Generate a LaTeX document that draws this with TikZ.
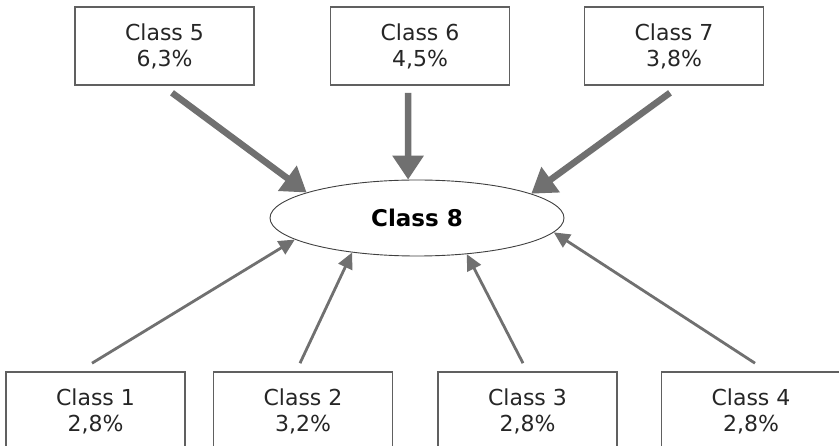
\documentclass[tikz,border=0pt]{standalone}
\usepackage{fontspec}
\setmainfont{DejaVu Sans}
\usepackage{tikz}
\usetikzlibrary{shapes.geometric,arrows.meta}
\definecolor{arrowgray}{RGB}{112,112,112}
\definecolor{boxgray}{RGB}{96,96,96}

\begin{document}
\begin{tikzpicture}[x=1pt,y=-1pt,
    classbox/.style={draw=boxgray,line width=1.6pt,fill=white,minimum width=179pt,minimum height=78pt,
        align=center,font=\fontsize{22}{26}\selectfont,text=black!85},
    target/.style={draw=black!75,line width=0.9pt,ellipse,minimum width=294pt,minimum height=76pt,
        inner sep=0pt,font=\fontsize{23}{26}\selectfont\bfseries},
    heavy/.style={draw=arrowgray,line width=6.5pt,-{Triangle[length=24pt,width=30pt]}},
    light/.style={draw=arrowgray,line width=2.8pt,-{Triangle[length=16pt,width=15pt]}}]
    \clip (0,0) rectangle (839,446);
    \fill[white] (0,0) rectangle (839,446);
    \node[target] (c8) at (417,218) {Class 8};
    \node[classbox] (c5) at (164.5,46) {Class 5\\6,3\%};
    \node[classbox] (c6) at (420,46) {Class 6\\4,5\%};
    \node[classbox] (c7) at (674,46) {Class 7\\3,8\%};
    \node[classbox] (c1) at (95.5,411) {Class 1\\2,8\%};
    \node[classbox] (c2) at (303,411) {Class 2\\3,2\%};
    \node[classbox] (c3) at (527.5,411) {Class 3\\2,8\%};
    \node[classbox] (c4) at (751,411) {Class 4\\2,8\%};
    \draw[heavy] ([shift={(7.5,7)}]c5.south) -- (c8.167);
    \draw[heavy] ([shift={(-12,7)}]c6.south) -- (c8.103);
    \draw[heavy] ([shift={(-4,7)}]c7.south) -- (c8.12);
    \draw[light] ([shift={(-3.5,-8)}]c1.north) -- (c8.190);
    \draw[light] ([shift={(-3,-8)}]c2.north) -- (c8.208);
    \draw[light] ([shift={(-4.5,-8)}]c3.north) -- (c8.324);
    \draw[light] ([shift={(4,-8)}]c4.north) -- (c8.354);
\end{tikzpicture}
\end{document}
